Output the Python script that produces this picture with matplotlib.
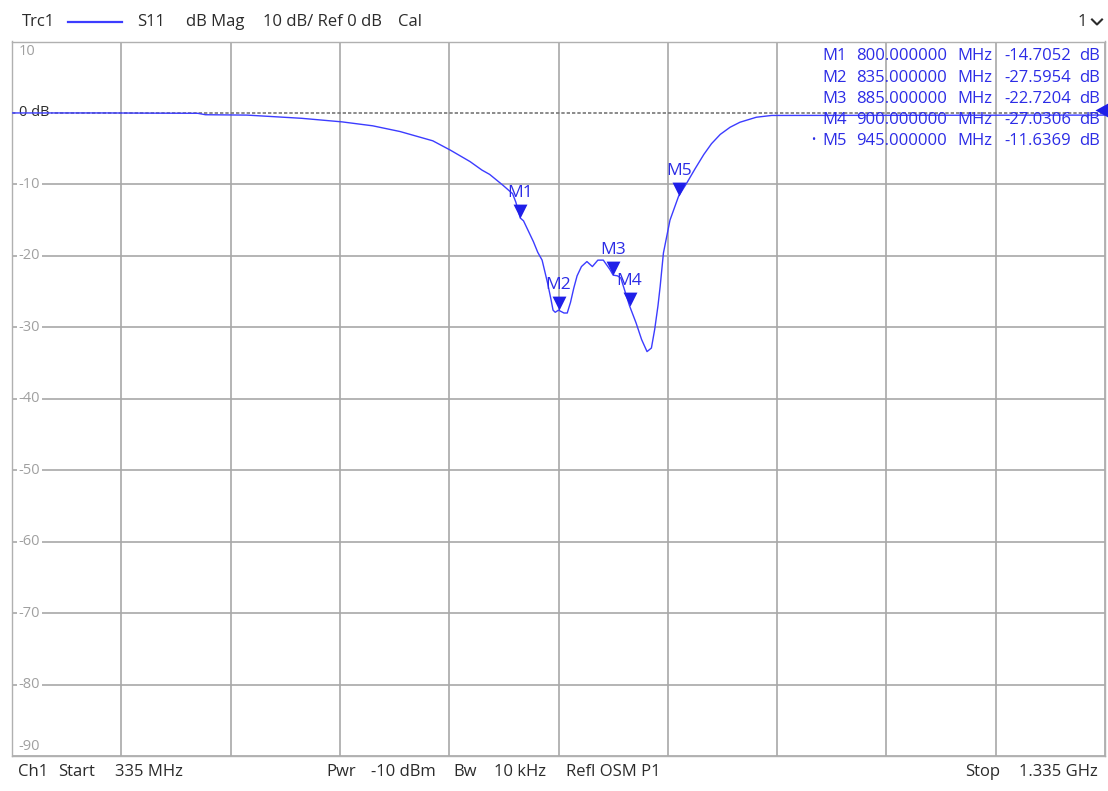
import matplotlib
matplotlib.use('Agg')
import matplotlib.pyplot as plt
from matplotlib.path import Path
import matplotlib.transforms as mtransforms

# ---------------- data ----------------
freq_mhz = [335, 420, 505, 512, 550, 600, 637, 665, 690, 720, 736, 754, 765, 772,
            784, 793, 796, 800, 803, 812, 816, 820, 825, 828, 830, 832, 835, 840,
            843, 846, 849, 852, 856, 861, 866, 871, 876, 882, 885, 889, 892, 900,
            906, 911, 916, 920, 923, 926, 928, 931, 937, 945, 952, 960, 968, 975,
            983, 992, 1001, 1016, 1030, 1335]
s11_db = [0.0, 0.0, -0.05, -0.25, -0.3, -0.75, -1.25, -1.8, -2.6, -3.9, -5.2, -6.8,
          -8.0, -8.6, -10.1, -11.3, -12.5, -14.7, -15.1, -18.0, -19.5, -20.6, -23.8,
          -26.0, -27.6, -27.9, -27.6, -28.0, -28.0, -26.5, -24.5, -22.8, -21.5,
          -20.8, -21.5, -20.6, -20.6, -21.9, -22.7, -22.8, -23.1, -27.0, -29.4,
          -31.7, -33.4, -32.9, -30.3, -27.0, -24.3, -19.6, -15.0, -11.6, -9.9,
          -7.8, -5.8, -4.3, -3.0, -2.0, -1.3, -0.6, -0.35, -0.3]

marker_names = ['M1', 'M2', 'M3', 'M4', 'M5']
marker_freq = [800.0, 835.0, 885.0, 900.0, 945.0]
marker_db = [-14.7052, -27.5954, -22.7204, -27.0306, -11.6369]

y_ticks = [10, 0, -10, -20, -30, -40, -50, -60, -70, -80, -90]
y_tick_labels = ['10', '0 dB', '-10', '-20', '-30', '-40', '-50', '-60', '-70', '-80', '-90']
x_start, x_stop, x_div = 335, 1335, 100
ref_db = 0

header_items = [('Trc1', 22), ('S11', 137), ('dB Mag', 186), ('10 dB/ Ref 0 dB', 263), ('Cal', 398)]
footer_items = [('Ch1', 18), ('Start', 58), ('335 MHz', 115), ('Pwr', 326), ('-10 dBm', 371),
                ('Bw', 453), ('10 kHz', 494), ('Refl OSM P1', 566), ('Stop', 965), ('1.335 GHz', 1019)]

# ---------------- style ----------------
W, H = 1108, 791
TRACE = '#3c3cff'
MTEXT = '#2c2ce6'
GRID = '#a8a8a8'
DARK = '#2b2b2b'
FONT = ['Open Sans', 'DejaVu Sans']
plt.rcParams['font.family'] = FONT

fig = plt.figure(figsize=(W / 100, H / 100), dpi=100)
fig.patch.set_facecolor('white')

def fx(px):
    return px / W

def fy(py):
    return 1 - py / H

L, R, T, B = 12, 1105, 41.5, 756
ax = fig.add_axes([fx(L), fy(B), fx(R) - fx(L), fy(T) - fy(B)])
ax.set_xlim(x_start, x_stop)
ax.set_ylim(-90, 10)
ax.set_xticks(range(x_start, x_stop + 1, x_div))
ax.set_yticks(y_ticks)
ax.tick_params(length=0, labelleft=False, labelbottom=False)
ax.grid(True, color=GRID, linewidth=1.2, zorder=0)
for sp in ax.spines.values():
    sp.set_color('#b0b0b0')
    sp.set_linewidth(1.0)
ax.set_axisbelow(True)

# hide the 0 dB solid gridline and draw dashed reference line
for g, v in zip(ax.get_ygridlines(), y_ticks):
    if v == ref_db:
        g.set_visible(False)
ax.axhline(ref_db, color='#777777', linewidth=1.2, linestyle=(0, (2, 1.2)), zorder=1)

# y labels inside the plot
ytr = ax.get_yaxis_transform()
for v, lab in zip(y_ticks, y_tick_labels):
    if v == 10:
        yy = 8.6
    elif v == -90:
        yy = -88.7
    else:
        yy = v
    col = DARK if v == ref_db else '#a0a0a0'
    ax.text(0.006, yy, lab, transform=ytr, ha='left', va='center', fontsize=10.5, color=col,
            zorder=2, bbox=dict(facecolor='white', edgecolor='none', pad=1.0) if v not in (10, -90) else None)

# trace
ax.plot(freq_mhz, s11_db, color=TRACE, linewidth=1.0, zorder=4, solid_joinstyle='round')

# markers (tip at the point)
tri = Path([(0, 0), (-0.5, 1), (0.5, 1), (0, 0)], [Path.MOVETO, Path.LINETO, Path.LINETO, Path.CLOSEPOLY])
ax.plot(marker_freq, marker_db, linestyle='none', marker=tri, markersize=20,
        color='#1f1fe8', markeredgewidth=0, zorder=5)
for name, f, d in zip(marker_names, marker_freq, marker_db):
    ax.annotate(name, (f, d), xytext=(0, 18), textcoords='offset points', ha='center',
                va='center', fontsize=12.5, color=MTEXT, zorder=6)

# reference level indicator at right edge
ref_tri = Path([(0, 0), (1, 0.55), (1, -0.55), (0, 0)], [Path.MOVETO, Path.LINETO, Path.LINETO, Path.CLOSEPOLY])
ax.plot([x_stop], [ref_db + 0.35], marker=ref_tri, markersize=18, color='#1f1fe8',
        markeredgewidth=0, clip_on=False, zorder=6,
        transform=ax.transData + mtransforms.ScaledTranslation(-10 / 100, 0, fig.dpi_scale_trans))

# marker table
row_y = [56, 77.5, 99, 120, 141]
for i, (name, f, d) in enumerate(zip(marker_names, marker_freq, marker_db)):
    y = fy(row_y[i])
    fig.text(fx(847), y, name, ha='right', va='center', fontsize=12, color=MTEXT, zorder=7)
    fig.text(fx(947), y, f'{f:.6f}', ha='right', va='center', fontsize=12, color=MTEXT, zorder=7)
    fig.text(fx(992), y, 'MHz', ha='right', va='center', fontsize=12, color=MTEXT, zorder=7)
    fig.text(fx(1071), y, f'{d:.4f}', ha='right', va='center', fontsize=12, color=MTEXT, zorder=7)
    fig.text(fx(1100), y, 'dB', ha='right', va='center', fontsize=12, color=MTEXT, zorder=7)
    if i == len(marker_names) - 1:
        fig.text(fx(813), y, '•', ha='center', va='center', fontsize=8, color=MTEXT)

# header
for txt, x in header_items:
    fig.text(fx(x), fy(22), txt, ha='left', va='center', fontsize=12, color=DARK)
fig.add_artist(plt.Line2D([fx(68), fx(122)], [fy(22), fy(22)], color=TRACE, linewidth=1.6))
fig.text(fx(1087), fy(22), '1', ha='right', va='center', fontsize=12, color=DARK)
fig.add_artist(plt.Line2D([fx(1092), fx(1097), fx(1102)], [fy(19.5), fy(24.5), fy(19.5)],
                          color=DARK, linewidth=1.5))

# footer
for txt, x in footer_items:
    fig.text(fx(x), fy(772), txt, ha='left', va='center', fontsize=12, color=DARK)

fig.savefig('out.png', dpi=100, facecolor='white')
